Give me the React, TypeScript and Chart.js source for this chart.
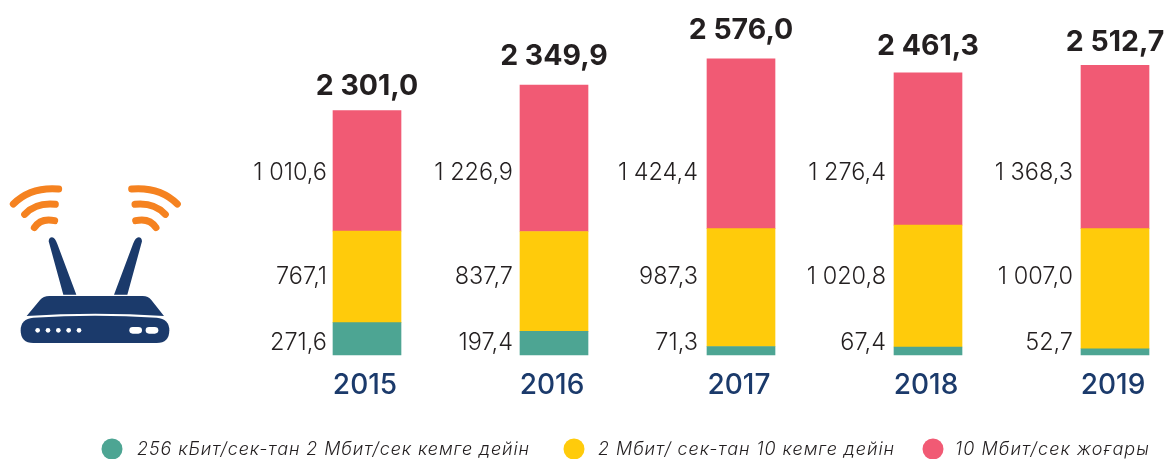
import React, { useEffect, useRef } from "react";
import { Chart, registerables } from "chart.js";

Chart.register(...registerables);

const years = ["2015", "2016", "2017", "2018", "2019"];
const lowSpeed = [271.6, 197.4, 71.3, 67.4, 52.7];
const midSpeed = [767.1, 837.7, 987.3, 1020.8, 1007.0];
const highSpeed = [1010.6, 1226.9, 1424.4, 1276.4, 1368.3];
const totals = ["2 301,0", "2 349,9", "2 576,0", "2 461,3", "2 512,7"];
const lowLabels = ["271,6", "197,4", "71,3", "67,4", "52,7"];
const midLabels = ["767,1", "837,7", "987,3", "1 020,8", "1 007,0"];
const highLabels = ["1 010,6", "1 226,9", "1 424,4", "1 276,4", "1 368,3"];
const seriesNames = [
  "256 кБит/сек-тан 2 Мбит/сек кемге дейін",
  "2 Мбит/ сек-тан 10 кемге дейін",
  "10 Мбит/сек жоғары",
];

const GREEN = "#4DA593";
const YELLOW = "#FFCB0B";
const RED = "#F15A74";
const NAVY = "#1B3A6B";
const ORANGE = "#F58220";
const INK = "#231F20";
const FAMILY = "Inter, 'Open Sans', sans-serif";

const legendLayout = [
  { cx: 112, tx: 137, w: 393 },
  { cx: 574, tx: 598, w: 297 },
  { cx: 933, tx: 955, w: 195 },
];
const rowY = [343, 277, 173];
const totalGap = [24, 29, 28, 26, 23];
const sideGap = [6, 7, 9, 8, 8];

function fitText(ctx: CanvasRenderingContext2D, text: string, x: number, y: number, width: number) {
  (ctx as any).letterSpacing = "0px";
  const w = ctx.measureText(text).width;
  (ctx as any).letterSpacing = (width - w) / text.length + "px";
  ctx.fillText(text, x, y);
  (ctx as any).letterSpacing = "0px";
}

const labelsPlugin = {
  id: "barLabels",
  afterDatasetsDraw(chart: any) {
    const { ctx } = chart;
    ctx.save();
    const sets = [lowLabels, midLabels, highLabels];
    ctx.textBaseline = "middle";
    ctx.fillStyle = INK;
    ctx.textAlign = "right";
    ctx.font = `300 23.5px ${FAMILY}`;
    sets.forEach((labels, ds) => {
      const meta = chart.getDatasetMeta(ds);
      labels.forEach((t, i) => {
        const bar = meta.data[i];
        ctx.fillText(t, bar.x - bar.width / 2 - sideGap[i], rowY[ds]);
      });
    });
    const top = chart.getDatasetMeta(2);
    ctx.textAlign = "center";
    ctx.font = `700 28.5px ${FAMILY}`;
    totals.forEach((t, i) => {
      const bar = top.data[i];
      ctx.fillText(t, bar.x, bar.y - totalGap[i]);
    });
    ctx.restore();
  },
};

const legendPlugin = {
  id: "rowLegend",
  afterDraw(chart: any) {
    const { ctx } = chart;
    ctx.save();
    ctx.textBaseline = "middle";
    chart.data.datasets.forEach((d: any, i: number) => {
      const l = legendLayout[i];
      ctx.beginPath();
      ctx.arc(l.cx, 449, 10.5, 0, Math.PI * 2);
      ctx.fillStyle = d.backgroundColor;
      ctx.fill();
      ctx.fillStyle = INK;
      ctx.textAlign = "left";
      ctx.font = `italic 300 18px ${FAMILY}`;
      fitText(ctx, d.label, l.tx, 450, l.w);
    });
    ctx.restore();
  },
};

const iconPlugin = {
  id: "routerIcon",
  afterDraw(chart: any) {
    const { ctx } = chart;
    ctx.save();
    ctx.translate(0, 170);
    ctx.scale(1 / 3, 1 / 3);
    ctx.strokeStyle = ORANGE;
    ctx.lineWidth = 21;
    ctx.lineCap = "round";
    const arcs = [
      "M40 102 Q92 50 176 57 M395 57 Q480 50 532 102",
      "M74 133 Q108 97 166 103 M405 103 Q462 97 496 133",
      "M103 173 Q122 143 164 152 M407 152 Q449 143 468 173",
    ];
    arcs.forEach((p) => ctx.stroke(new Path2D(p)));
    ctx.fillStyle = NAVY;
    ctx.fill(new Path2D("M146 214 Q147 202 156 202 Q165 203 172 222 L229 374 L190 374 Z"));
    ctx.fill(new Path2D("M426 214 Q425 202 416 202 Q406 203 399 222 L342 374 L382 374 Z"));
    ctx.fill(new Path2D("M80 438 L120 390 Q130 378 148 378 L428 378 Q445 378 454 390 L492 438 Q286 424 80 438 Z"));
    ctx.fill(new Path2D("M100 443 Q285 431 470 443 Q508 446 508 481 Q508 519 470 519 L100 519 Q62 519 62 481 Q62 446 100 443 Z"));
    ctx.fillStyle = "#FFFFFF";
    [113, 144, 175, 206, 237].forEach((x) => {
      ctx.beginPath();
      ctx.arc(x, 481, 7, 0, Math.PI * 2);
      ctx.fill();
    });
    ctx.fill(new Path2D("M398 471 L415 471 Q426 471 426 481 Q426 491 415 491 L398 491 Q388 491 388 481 Q388 471 398 471 Z"));
    ctx.fill(new Path2D("M447 471 L464 471 Q475 471 475 481 Q475 491 464 491 L447 491 Q437 491 437 481 Q437 471 447 471 Z"));
    ctx.restore();
  },
};

export default function App() {
  const ref = useRef<HTMLCanvasElement | null>(null);
  useEffect(() => {
    if (!ref.current) return;
    const chart = new Chart(ref.current, {
      type: "bar",
      data: {
        labels: years,
        datasets: [
          { label: seriesNames[0], data: lowSpeed, backgroundColor: GREEN, clip: false } as any,
          { label: seriesNames[1], data: midSpeed, backgroundColor: YELLOW, clip: false } as any,
          { label: seriesNames[2], data: highSpeed, backgroundColor: RED, clip: false } as any,
        ],
      },
      options: {
        animation: false,
        responsive: false,
        layout: { padding: { left: 367, right: 49, top: 9, bottom: 0 } },
        datasets: { bar: { barThickness: 68 } },
        plugins: { legend: { display: false }, tooltip: { enabled: false }, title: { display: false } },
        scales: {
          x: {
            stacked: true,
            offset: false,
            grid: { display: false, drawTicks: false },
            border: { display: false },
            ticks: {
              color: NAVY,
              font: { family: FAMILY, size: 28, weight: "500" },
              padding: 14,
              labelOffset: -2,
              maxRotation: 0,
              autoSkip: false,
            },
            afterFit: (s: any) => {
              s.height = 104;
              s.paddingLeft = 0;
              s.paddingRight = 0;
            },
          },
          y: { stacked: true, display: false, min: 0, max: 2900 },
        },
      },
      plugins: [labelsPlugin, legendPlugin, iconPlugin],
    } as any);
    return () => chart.destroy();
  }, []);
  return (
    <div style={{ position: "absolute", left: 0, top: 0, width: 1164, height: 459, background: "#fff" }}>
      <canvas ref={ref} width={1164} height={459} style={{ display: "block" }} />
    </div>
  );
}
